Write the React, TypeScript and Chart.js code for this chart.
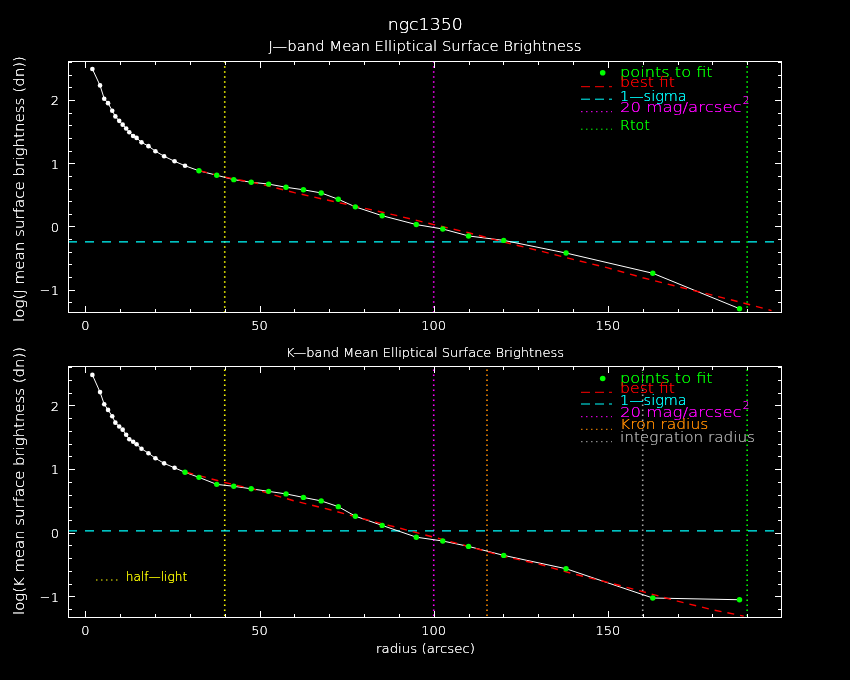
import { useEffect, useRef } from 'react';
import { Chart, registerables } from 'chart.js';

Chart.register(...registerables);

// radii (arcsec) of the elliptical annuli, same for both bands
const radius = [
  2.0, 4.2, 5.4, 6.5, 7.7, 8.6, 9.7, 10.7, 11.7, 12.6, 13.7, 14.7, 16.1, 18.1, 20.1, 22.6, 25.6, 28.6,
  32.6, 37.7, 42.6, 47.6, 52.6, 57.6, 62.6, 67.7, 72.6, 77.5, 85.2, 95.0, 102.6, 110.0, 120.1, 138.0, 162.9, 187.8,
];
const jLogSB = [
  2.49, 2.23, 2.02, 1.95, 1.83, 1.74, 1.67, 1.61, 1.55, 1.49, 1.43, 1.4, 1.33, 1.27, 1.19, 1.11, 1.03, 0.96,
  0.88, 0.81, 0.74, 0.7, 0.67, 0.62, 0.58, 0.53, 0.43, 0.31, 0.17, 0.03, -0.04, -0.15, -0.22, -0.42, -0.74, -1.3,
];
const kLogSB = [
  2.48, 2.21, 2.02, 1.93, 1.83, 1.73, 1.67, 1.62, 1.54, 1.47, 1.43, 1.39, 1.32, 1.25, 1.17, 1.09, 1.02, 0.95,
  0.87, 0.76, 0.73, 0.69, 0.65, 0.61, 0.555, 0.5, 0.41, 0.26, 0.115, -0.07, -0.13, -0.215, -0.356, -0.566, -1.026, -1.053,
];
// first index of the points used in the fit
const jFitStart = 18;
const kFitStart = 17;

const jBestFitR = [33, 40, 50, 60, 70, 80, 90, 100, 110, 120, 130, 140, 150, 160, 170, 180, 190, 197];
const jBestFitLog = [0.88, 0.78, 0.675, 0.535, 0.41, 0.29, 0.165, 0.03, -0.1, -0.245, -0.38, -0.52, -0.655, -0.81, -0.95, -1.085, -1.225, -1.33];
const kBestFitR = [29, 40, 50, 60, 70, 80, 90, 100, 110, 120, 130, 140, 150, 160, 170, 180, 189];
const kBestFitLog = [0.95, 0.79, 0.66, 0.5, 0.365, 0.215, 0.075, -0.07, -0.215, -0.37, -0.49, -0.645, -0.78, -0.925, -1.075, -1.21, -1.31];

const jSigma = -0.245;
const kSigma = 0.03;
const mag20Radius = 100;
const halfLightRadius = 40;
const totalRadius = 190;
const kronRadius = 115.3;
const integrationRadius = 160;

const xTickLabels = [0, 50, 100, 150];
const yTickLabels = [-1, 0, 1, 2];

const FONT = '"DejaVu Sans", sans-serif';
const WHITE = '#ffffff';
const GREEN = '#00ff00';
const RED = '#ff0000';
const CYAN = '#00ffff';
const MAGENTA = '#ff00ff';
const YELLOW = '#ffff00';
const ORANGE = '#ff8c00';
const GREY = '#a8a8a8';
const DOTS = [1.5, 3.5];

const drawText = (
  ctx: CanvasRenderingContext2D,
  s: string,
  x: number,
  y: number,
  size: number,
  color: string,
  width = 0,
  align = 'left',
  rotate = false,
) => {
  ctx.save();
  ctx.font = `200 ${size}px ${FONT}`;
  ctx.fillStyle = color;
  ctx.textBaseline = 'alphabetic';
  const w = ctx.measureText(s).width;
  ctx.translate(x, y);
  if (rotate) ctx.rotate(-Math.PI / 2);
  ctx.scale(width ? width / w : 1, 1);
  const ox = align === 'center' ? -w / 2 : align === 'right' ? -w : 0;
  // thin strokes: fill twice so they come out as bright as the plotter lines
  ctx.fillText(s, ox, 0);
  ctx.fillText(s, ox, 0);
  ctx.restore();
};

const drawSample = (ctx: CanvasRenderingContext2D, x0: number, x1: number, y: number, color: string, dash: number[]) => {
  ctx.save();
  ctx.strokeStyle = color;
  ctx.lineWidth = 1;
  ctx.setLineDash(dash);
  ctx.beginPath();
  ctx.moveTo(x0, y + 0.5);
  ctx.lineTo(x1, y + 0.5);
  ctx.stroke();
  ctx.restore();
};

const drawDot = (ctx: CanvasRenderingContext2D, x: number, y: number) => {
  ctx.save();
  ctx.fillStyle = GREEN;
  ctx.beginPath();
  ctx.arc(x, y, 2.8, 0, Math.PI * 2);
  ctx.fill();
  ctx.restore();
};

// box with inward ticks on all four sides, tick labels, then the panel's own text
const makeFramePlugin = (annotate: (ctx: CanvasRenderingContext2D) => void) => ({
  id: 'frame',
  afterDraw(chart: any) {
    const ctx: CanvasRenderingContext2D = chart.ctx;
    const { left, right, top, bottom } = chart.chartArea;
    const xs = chart.scales.x;
    const ys = chart.scales.y;
    ctx.save();
    ctx.strokeStyle = WHITE;
    ctx.lineWidth = 1;
    ctx.strokeRect(Math.round(left) + 0.5, Math.round(top) + 0.5, Math.round(right - left) - 1, Math.round(bottom - top) - 1);
    ctx.beginPath();
    for (let v = 0; v <= 190; v += 10) {
      const px = Math.round(xs.getPixelForValue(v)) + 0.5;
      const len = v % 50 === 0 ? 7 : 4;
      ctx.moveTo(px, bottom);
      ctx.lineTo(px, bottom - len);
      ctx.moveTo(px, top);
      ctx.lineTo(px, top + len);
    }
    for (let k = -12; k <= 26; k += 2) {
      const py = Math.round(ys.getPixelForValue(k / 10)) + 0.5;
      if (py < top || py > bottom) continue;
      const len = k % 10 === 0 ? 7 : 4;
      ctx.moveTo(left, py);
      ctx.lineTo(left + len, py);
      ctx.moveTo(right, py);
      ctx.lineTo(right - len, py);
    }
    ctx.stroke();
    ctx.restore();
    xTickLabels.forEach((v) => drawText(ctx, String(v), xs.getPixelForValue(v), bottom + 16.5, 13, WHITE, 0, 'center'));
    yTickLabels.forEach((v) =>
      drawText(ctx, v < 0 ? '\u2212' + Math.abs(v) : String(v), 59, ys.getPixelForValue(v) + 5.3, 13, WHITE, 0, 'right'),
    );
    annotate(ctx);
  },
});

const pts = (xs: number[], ys: number[]) => xs.map((x, i) => ({ x, y: ys[i] }));

const vLine = (x: number, color: string) => ({
  data: [
    { x, y: -5 },
    { x, y: 5 },
  ],
  showLine: true,
  borderColor: color,
  borderWidth: 1.6,
  borderDash: DOTS,
  pointRadius: 0,
});

const makeChart = (
  canvas: HTMLCanvasElement,
  logSB: number[],
  fitStart: number,
  bestR: number[],
  bestLog: number[],
  sigma: number,
  lines: [number, string][],
  yMin: number,
  yMax: number,
  padding: { left: number; right: number; top: number; bottom: number },
  annotate: (ctx: CanvasRenderingContext2D) => void,
) => {
  const all = pts(radius, logSB);
  return new Chart(canvas, {
    type: 'scatter',
    data: {
      datasets: [
        {
          data: all.slice(fitStart),
          pointRadius: 2.7,
          pointBackgroundColor: GREEN,
          pointBorderWidth: 0,
          showLine: false,
        },
        {
          data: all.slice(0, fitStart),
          pointRadius: 2.3,
          pointBackgroundColor: WHITE,
          pointBorderWidth: 0,
          showLine: false,
        },
        {
          data: pts(bestR, bestLog),
          showLine: true,
          borderColor: RED,
          borderWidth: 1.4,
          borderDash: [7, 6],
          pointRadius: 0,
        },
        {
          data: all,
          showLine: true,
          borderColor: WHITE,
          borderWidth: 1,
          pointRadius: 0,
        },
        {
          data: [
            { x: -5, y: sigma },
            { x: 200, y: sigma },
          ],
          showLine: true,
          borderColor: CYAN,
          borderWidth: 1.3,
          borderDash: [9, 8],
          pointRadius: 0,
        },
        ...lines.map(([x, c]) => vLine(x, c)),
      ] as any,
    },
    options: {
      animation: false,
      responsive: false,
      events: [],
      layout: { padding },
      scales: {
        x: { type: 'linear', min: -5, max: 200, display: false },
        y: { type: 'linear', min: yMin, max: yMax, display: false },
      },
      plugins: {
        legend: { display: false },
        tooltip: { enabled: false },
      },
    },
    plugins: [makeFramePlugin(annotate)],
  });
};

const App = () => {
  const topRef = useRef<HTMLCanvasElement | null>(null);
  const bottomRef = useRef<HTMLCanvasElement | null>(null);

  useEffect(() => {
    if (!topRef.current || !bottomRef.current) return;

    const jChart = makeChart(
      topRef.current,
      jLogSB,
      jFitStart,
      jBestFitR,
      jBestFitLog,
      jSigma,
      [
        [halfLightRadius, YELLOW],
        [mag20Radius, MAGENTA],
        [totalRadius, GREEN],
      ],
      -1.368,
      2.616,
      { left: 68, right: 68, top: 61, bottom: 27 },
      (ctx) => {
        drawText(ctx, 'ngc1350', 425.2, 30, 15, WHITE, 75, 'center');
        drawText(ctx, 'J\u2014band Mean Elliptical Surface Brightness', 425, 50.7, 14, WHITE, 313, 'center');
        drawText(ctx, 'log(J mean surface brightness (dn))', 23.5, 189, 14, WHITE, 266, 'center', true);
        drawDot(ctx, 602.7, 72.7);
        drawText(ctx, 'points to fit', 620, 76.7, 14, GREEN, 92.7);
        drawSample(ctx, 581, 612, 86.2, RED, [9, 5]);
        drawText(ctx, 'best fit', 620, 87, 14, RED, 55);
        drawSample(ctx, 581, 612, 98.7, CYAN, [9, 5]);
        drawText(ctx, '1\u2014sigma', 620, 100.5, 14, CYAN, 66.7);
        drawSample(ctx, 581, 612, 111.2, MAGENTA, DOTS);
        drawText(ctx, '20 mag/arcsec', 620, 112, 14, MAGENTA, 121.7);
        drawText(ctx, '2', 742.7, 104.3, 11, MAGENTA, 6.7);
        drawSample(ctx, 581, 612, 128.7, GREEN, DOTS);
        drawText(ctx, 'Rtot', 620, 130, 14, GREEN, 30);
      },
    );

    const off = 340;
    const kChart = makeChart(
      bottomRef.current,
      kLogSB,
      kFitStart,
      kBestFitR,
      kBestFitLog,
      kSigma,
      [
        [halfLightRadius, YELLOW],
        [mag20Radius, MAGENTA],
        [kronRadius, ORANGE],
        [integrationRadius, GREY],
        [totalRadius, GREEN],
      ],
      -1.34,
      2.62,
      { left: 68, right: 68, top: 26, bottom: 62 },
      (ctx) => {
        drawText(ctx, 'K\u2014band Mean Elliptical Surface Brightness', 425, 357.3 - off, 13, WHITE, 278, 'center');
        drawText(ctx, 'log(K mean surface brightness (dn))', 23.5, 481 - off, 14, WHITE, 268, 'center', true);
        drawText(ctx, 'radius (arcsec)', 425.5, 653.3 - off, 13, WHITE, 99, 'center');
        drawDot(ctx, 602.7, 378.5 - off);
        drawText(ctx, 'points to fit', 620, 383.3 - off, 14, GREEN, 92.7);
        drawSample(ctx, 581, 612, 391.8 - off, RED, [9, 5]);
        drawText(ctx, 'best fit', 620, 392.7 - off, 14, RED, 55);
        drawSample(ctx, 581, 612, 403.5 - off, CYAN, [9, 5]);
        drawText(ctx, '1\u2014sigma', 620, 405 - off, 14, CYAN, 66.7);
        drawSample(ctx, 581, 612, 416.2 - off, MAGENTA, DOTS);
        drawText(ctx, '20 mag/arcsec', 620, 417.3 - off, 14, MAGENTA, 121.7);
        drawText(ctx, '2', 742.7, 409.3 - off, 11, MAGENTA, 6.7);
        drawSample(ctx, 581, 612, 428.8 - off, ORANGE, DOTS);
        drawText(ctx, 'Kron radius', 620, 429.3 - off, 14, ORANGE, 88.3);
        drawSample(ctx, 581, 612, 441.2 - off, GREY, DOTS);
        drawText(ctx, 'integration radius', 620, 442.3 - off, 14, GREY, 135);
        drawSample(ctx, 96, 118, 579.5 - off, YELLOW, DOTS);
        drawText(ctx, 'half\u2014light', 125.7, 580.7 - off, 13, YELLOW, 61.6);
      },
    );

    return () => {
      jChart.destroy();
      kChart.destroy();
    };
  }, []);

  return (
    <div style={{ position: 'fixed', left: 0, top: 0, width: 850, height: 680, background: '#000' }}>
      <canvas ref={topRef} width={850} height={340} style={{ display: 'block' }} />
      <canvas ref={bottomRef} width={850} height={340} style={{ display: 'block' }} />
    </div>
  );
};

export default App;
